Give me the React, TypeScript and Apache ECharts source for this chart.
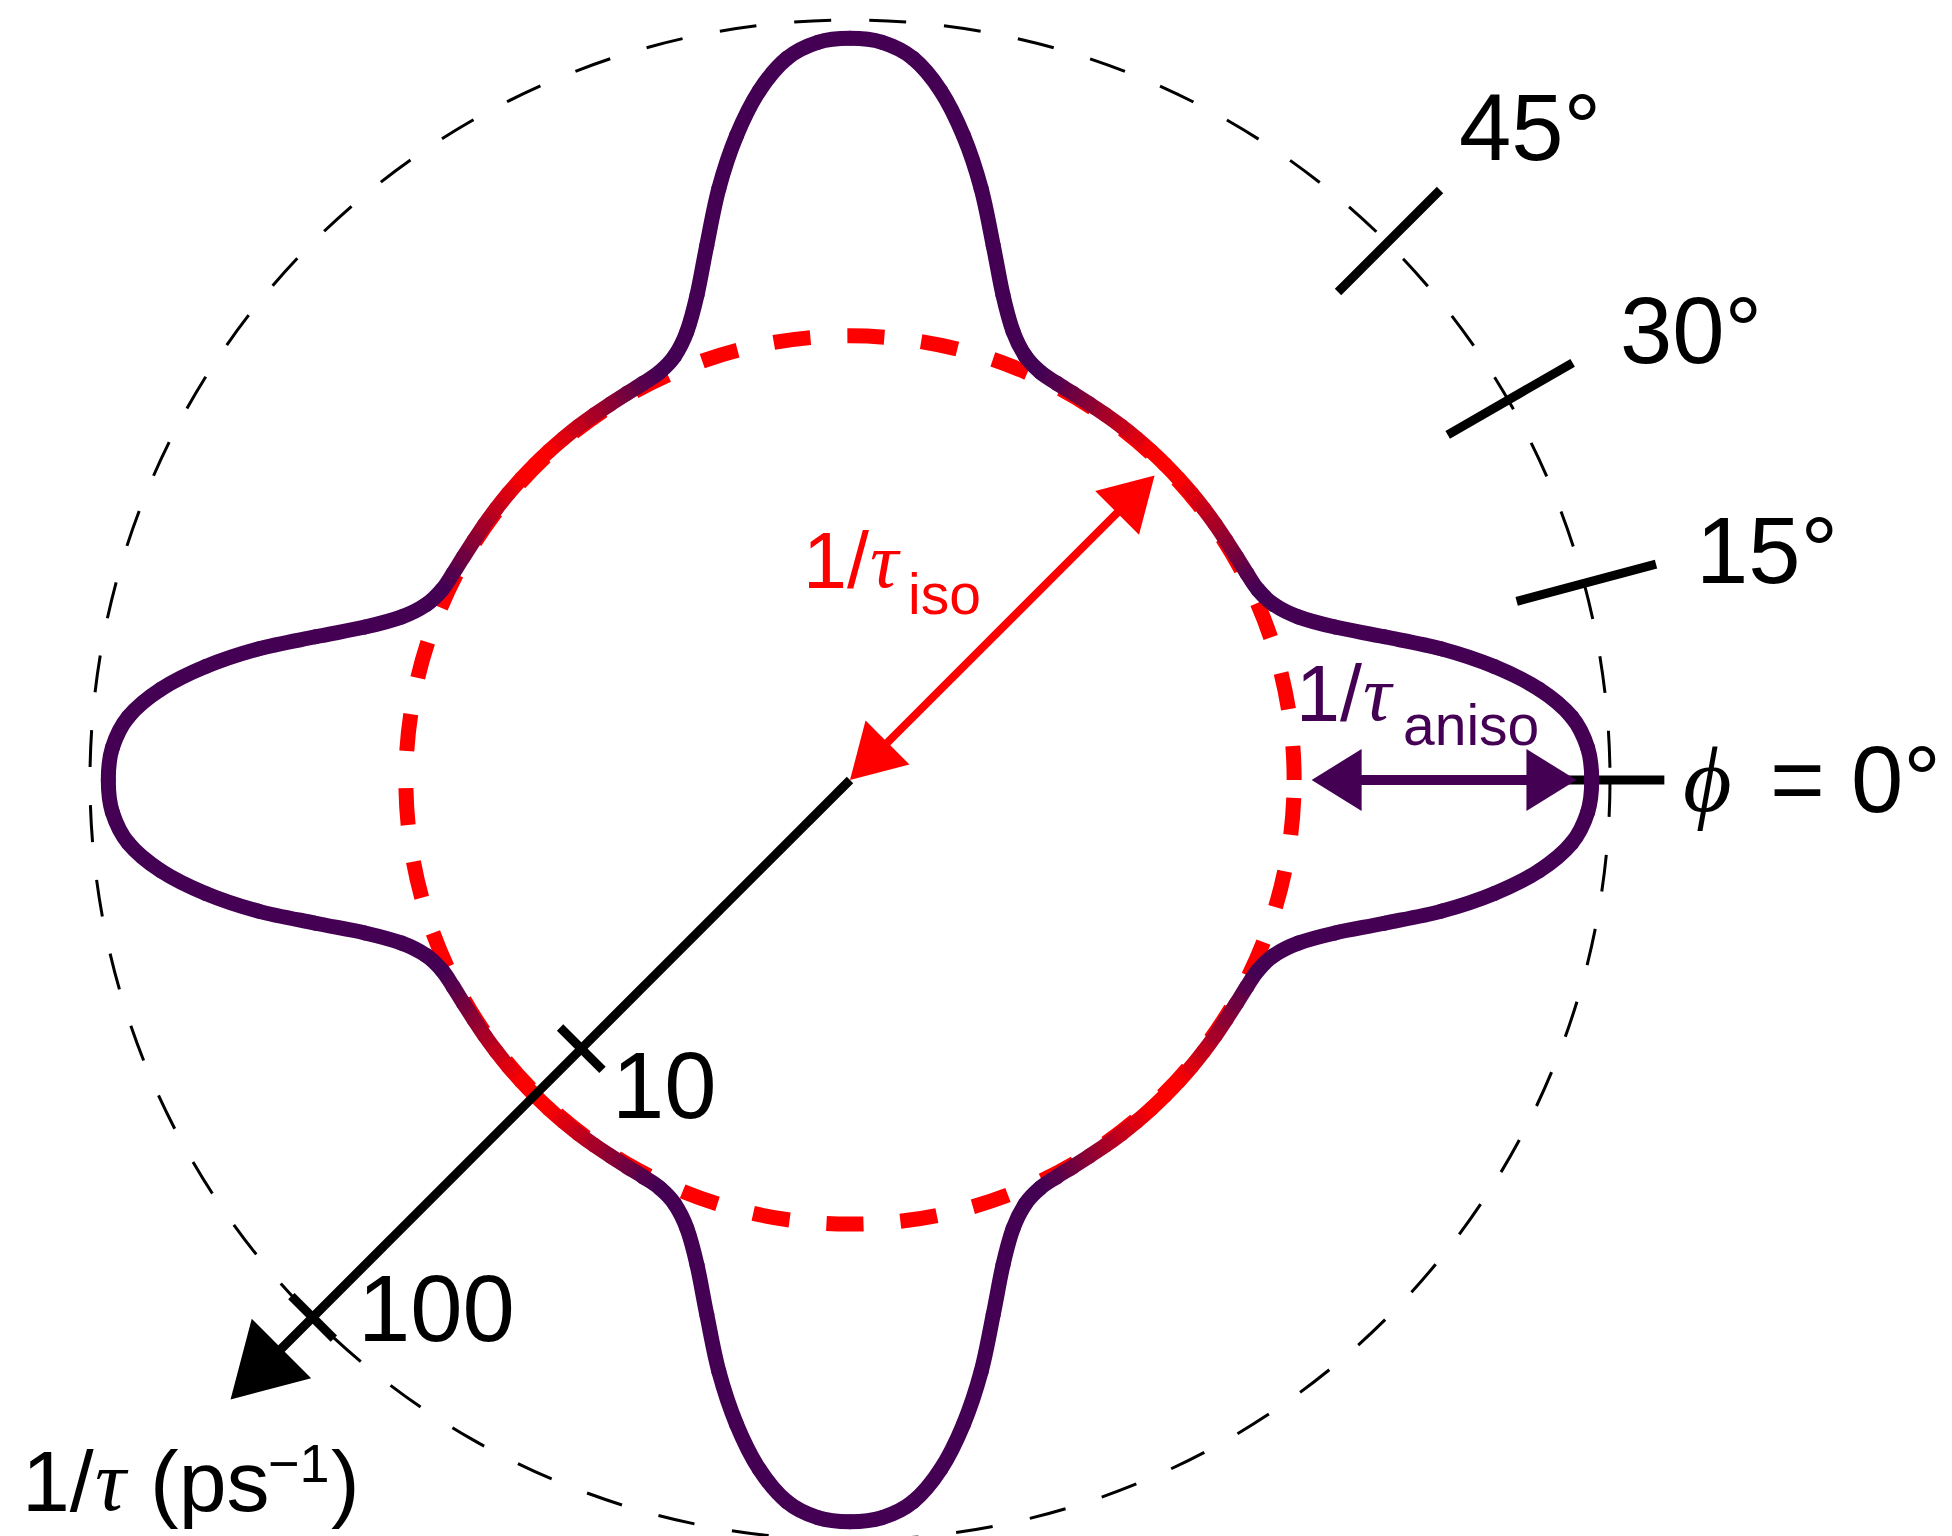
import React, { useEffect, useRef } from "react";
import * as echarts from "echarts";

// ---------------- data: 1/tau (ps^-1) ----------------
// one quadrant of the 4-fold symmetric anisotropic rate curve (angle phi in degrees)
const QUADRANT_ANGLES = [0, 2.5, 5, 7.5, 10, 12.5, 15, 17.5, 20, 22.5, 25, 27.5, 30, 32.5, 35, 37.5, 40, 42.5, 45];
const QUADRANT_RATES = [89.5, 87.7, 80.6, 67.5, 52.6, 39.3, 28.6, 21.8, 18.0, 16.1, 15.3, 15.05, 14.95, 14.9, 14.9, 14.9, 14.9, 14.9, 14.9];
const ISO_RATE = 14.75;
const RATE_RANGE = [1, 100];
const RATE_TICKS = [10, 100];
const RATE_TICK_LABELS = ["10", "100"];
const RATE_AXIS = [1, 202];
const RATE_AXIS_ANGLE = 225;
const ISO_ARROW = [1, 13.6];
const ISO_ARROW_ANGLE = 45;
const ANISO_ARROW = [16.4, 81.6];
const ANISO_ARROW_ANGLE = 0;
const ANGLE_TICKS = [15, 30, 45];
const ANGLE_TICK_LABELS = ["15°", "30°", "45°"];
const ANGLE_TICK_SPAN = [65.5, 157];
const ZERO_TICK_SPAN = [76, 139];

// ---------------- layout & style ----------------
const CENTER = [850, 780];
const RADIUS = 760;
const PURPLE = "#440154";
const PURPLE_RGB = [68, 1, 84];
const RED_RGB = [255, 0, 0];
const SANS = '"Liberation Sans", Arial, Helvetica, sans-serif';
const SERIF = '"Liberation Serif", "DejaVu Serif", serif';
const ANGLE_LABEL_POS = [
  [1696, 583],
  [1620, 363],
  [1459, 160],
];
const RATE_LABEL_POS = [
  [612, 1118],
  [358, 1341.5],
];

// full closed curve built from the quadrant by the figure's symmetry
const STEP = QUADRANT_ANGLES[1] - QUADRANT_ANGLES[0];
const CURVE: number[][] = [];
for (let k = 0; k < Math.round(360 / STEP); k++) {
  const a = k * STEP;
  const d = a % 90;
  const m = Math.min(d, 90 - d);
  CURVE.push([QUADRANT_RATES[Math.round(m / STEP)], a]);
}

function mixColor(t: number) {
  const c = PURPLE_RGB.map((p, i) => Math.round(p + (RED_RGB[i] - p) * t));
  return `rgb(${c[0]},${c[1]},${c[2]})`;
}
function curveColor(angle: number) {
  const d = ((angle % 90) + 90) % 90;
  const m = Math.min(d, 90 - d);
  const t = Math.max(0, Math.min(1, (m - 26) / 17));
  return mixColor(t);
}

function txt(x: number, baseline: number, text: string, size: number, color: string, family = SANS, italic = false) {
  return {
    type: "text",
    x,
    y: baseline - 0.346 * size,
    silent: true,
    style: {
      text,
      fill: color,
      fontSize: size,
      fontFamily: family,
      fontStyle: italic ? "italic" : "normal",
      align: "left",
      verticalAlign: "middle",
      textAlign: "left",
      textVerticalAlign: "middle",
    },
  };
}

function arrowSeries(name: string, span: number[], angle: number, st: any) {
  return {
    type: "custom",
    name,
    coordinateSystem: "polar",
    silent: true,
    z: st.z,
    data: [[span[1], angle]],
    renderItem: (_p: any, api: any) => {
      const a = api.coord([span[0], angle]);
      const b = api.coord([span[1], angle]);
      const dx = b[0] - a[0];
      const dy = b[1] - a[1];
      const L = Math.hypot(dx, dy) || 1;
      const ux = dx / L;
      const uy = dy / L;
      const nx = -uy;
      const ny = ux;
      const head = (tip: number[], dx2: number, dy2: number) => {
        const bx = tip[0] - dx2 * st.headLen;
        const by = tip[1] - dy2 * st.headLen;
        const hw = st.headWidth / 2;
        return {
          type: "polygon",
          shape: { points: [[tip[0], tip[1]], [bx + nx * hw, by + ny * hw], [bx - nx * hw, by - ny * hw]] },
          style: { fill: st.color, stroke: "none" },
        };
      };
      let s = a;
      let e = b;
      const children: any[] = [];
      if (st.startHead) {
        s = [a[0] + ux * st.headLen * 0.8, a[1] + uy * st.headLen * 0.8];
      }
      if (st.endHead) {
        e = [b[0] - ux * st.headLen * 0.8, b[1] - uy * st.headLen * 0.8];
      }
      children.push({
        type: "line",
        shape: { x1: s[0], y1: s[1], x2: e[0], y2: e[1] },
        style: { stroke: st.color, lineWidth: st.width, fill: "none" },
      });
      if (st.startHead) children.push(head(a, -ux, -uy));
      if (st.endHead) children.push(head(b, ux, uy));
      return { type: "group", children };
    },
  };
}

function buildOption() {
  const series: any[] = [];

  // isotropic rate circle (red dashed)
  series.push({
    type: "custom",
    name: "iso",
    coordinateSystem: "polar",
    silent: true,
    z: 2,
    data: [[ISO_RATE, 0]],
    renderItem: (_p: any, api: any) => {
      const c = api.coord([RATE_RANGE[0], 0]);
      const e = api.coord([ISO_RATE, 0]);
      const r = Math.hypot(e[0] - c[0], e[1] - c[1]);
      return {
        type: "circle",
        shape: { cx: c[0], cy: c[1], r },
        style: { fill: "none", stroke: "#ff0000", lineWidth: 15, lineDash: [37, 37], lineDashOffset: 56 },
      };
    },
  });

  // angle ticks (15, 30, 45 and 0)
  const tickItems = ANGLE_TICKS.map((a) => [ANGLE_TICK_SPAN[0], a, ANGLE_TICK_SPAN[1], a]);
  tickItems.push([ZERO_TICK_SPAN[0], 0, ZERO_TICK_SPAN[1], 0]);
  series.push({
    type: "custom",
    name: "angleTicks",
    coordinateSystem: "polar",
    silent: true,
    z: 2,
    data: tickItems.map((t) => [t[0], t[1]]),
    renderItem: (p: any, api: any) => {
      const t = tickItems[p.dataIndex];
      const a = api.coord([t[0], t[1]]);
      const b = api.coord([t[2], t[3]]);
      return {
        type: "line",
        shape: { x1: a[0], y1: a[1], x2: b[0], y2: b[1] },
        style: { stroke: "#000", lineWidth: 9, fill: "none" },
      };
    },
  });

  // anisotropic rate curve, coloured by angle
  series.push({
    type: "custom",
    name: "rate",
    coordinateSystem: "polar",
    silent: true,
    z: 3,
    data: CURVE,
    renderItem: (p: any, api: any) => {
      const n = CURVE.length;
      const i = p.dataIndex;
      const pt = (j: number) => {
        const c = CURVE[((j % n) + n) % n];
        return api.coord([c[0], c[1]]);
      };
      const p0 = pt(i - 1);
      const p1 = pt(i);
      const p2 = pt(i + 1);
      const p3 = pt(i + 2);
      const cp1 = [p1[0] + (p2[0] - p0[0]) / 6, p1[1] + (p2[1] - p0[1]) / 6];
      const cp2 = [p2[0] - (p3[0] - p1[0]) / 6, p2[1] - (p3[1] - p1[1]) / 6];
      const a1 = CURVE[i][1];
      const a2 = a1 + STEP;
      const grad = new echarts.graphic.LinearGradient(
        p1[0], p1[1], p2[0], p2[1],
        [
          { offset: 0, color: curveColor(a1) },
          { offset: 1, color: curveColor(a2) },
        ],
        true
      );
      return {
        type: "bezierCurve",
        shape: { x1: p1[0], y1: p1[1], x2: p2[0], y2: p2[1], cpx1: cp1[0], cpy1: cp1[1], cpx2: cp2[0], cpy2: cp2[1] },
        style: { fill: "none", stroke: grad, lineWidth: 15, lineCap: "round" },
      };
    },
  });

  // arrows
  series.push(arrowSeries("isoArrow", ISO_ARROW, ISO_ARROW_ANGLE, {
    color: "#ff0000", width: 8, headLen: 53, headWidth: 62, startHead: true, endHead: true, z: 4,
  }));
  series.push(arrowSeries("anisoArrow", ANISO_ARROW, ANISO_ARROW_ANGLE, {
    color: PURPLE, width: 10, headLen: 50, headWidth: 62, startHead: true, endHead: true, z: 4,
  }));
  series.push(arrowSeries("rateAxis", RATE_AXIS, RATE_AXIS_ANGLE, {
    color: "#000", width: 9, headLen: 72, headWidth: 84, startHead: false, endHead: true, z: 4,
  }));

  // rate-axis tick crosses
  series.push({
    type: "custom",
    name: "rateTicks",
    coordinateSystem: "polar",
    silent: true,
    z: 4,
    data: RATE_TICKS.map((v) => [v, RATE_AXIS_ANGLE]),
    renderItem: (p: any, api: any) => {
      const v = RATE_TICKS[p.dataIndex];
      const c = api.coord([RATE_RANGE[0], RATE_AXIS_ANGLE]);
      const q = api.coord([v, RATE_AXIS_ANGLE]);
      const L = Math.hypot(q[0] - c[0], q[1] - c[1]) || 1;
      const ux = (q[0] - c[0]) / L;
      const uy = (q[1] - c[1]) / L;
      const nx = -uy;
      const ny = ux;
      const h = 30;
      return {
        type: "line",
        shape: { x1: q[0] - nx * h, y1: q[1] - ny * h, x2: q[0] + nx * h, y2: q[1] + ny * h },
        style: { stroke: "#000", lineWidth: 9, fill: "none" },
      };
    },
  });

  const graphic: any[] = [];
  ANGLE_TICK_LABELS.forEach((t, i) => graphic.push(txt(ANGLE_LABEL_POS[i][0], ANGLE_LABEL_POS[i][1], t, 94, "#000")));
  RATE_TICK_LABELS.forEach((t, i) => graphic.push(txt(RATE_LABEL_POS[i][0], RATE_LABEL_POS[i][1], t, 94, "#000")));
  // phi = 0°
  graphic.push(txt(1683, 812, "\u03D5", 94, "#000", SERIF, true));
  graphic.push(txt(1770, 812, "= 0°", 94, "#000"));
  // 1/tau_iso
  graphic.push(txt(803, 588, "1/", 79, "#ff0000"));
  graphic.push(txt(870, 588, "τ", 79, "#ff0000", SERIF, true));
  graphic.push(txt(908, 614, "iso", 57, "#ff0000"));
  // 1/tau_aniso
  graphic.push(txt(1296, 720.7, "1/", 79, PURPLE));
  graphic.push(txt(1363, 720.7, "τ", 79, PURPLE, SERIF, true));
  graphic.push(txt(1403, 745, "aniso", 57, PURPLE));
  // 1/tau (ps^-1)
  graphic.push(txt(22, 1511, "1/", 86, "#000"));
  graphic.push(txt(95, 1511, "τ", 86, "#000", SERIF, true));
  graphic.push(txt(150, 1511, "(ps", 86, "#000"));
  graphic.push(txt(268, 1482, "\u22121", 54, "#000"));
  graphic.push(txt(331, 1511, ")", 86, "#000"));

  return {
    animation: false,
    backgroundColor: "#ffffff",
    polar: { center: CENTER, radius: RADIUS },
    angleAxis: {
      type: "value",
      min: 0,
      max: 360,
      startAngle: 0,
      clockwise: false,
      axisLine: { show: true, lineStyle: { color: "#000", width: 3, type: [37, 38] } },
      axisTick: { show: false },
      axisLabel: { show: false },
      splitLine: { show: false },
      splitArea: { show: false },
    },
    radiusAxis: {
      type: "log",
      logBase: 10,
      min: RATE_RANGE[0],
      max: RATE_RANGE[1],
      axisLine: { show: false },
      axisTick: { show: false },
      axisLabel: { show: false },
      splitLine: { show: false },
      splitArea: { show: false },
    },
    series,
    graphic,
  };
}

export default function App() {
  const ref = useRef<HTMLDivElement>(null);
  useEffect(() => {
    if (!ref.current) return;
    const chart = echarts.init(ref.current, null, { renderer: "svg" });
    chart.setOption(buildOption() as any);
    return () => chart.dispose();
  }, []);
  return (
    <div
      ref={ref}
      style={{ position: "absolute", left: 0, top: 0, width: 1952, height: 1536, background: "#fff" }}
    />
  );
}
